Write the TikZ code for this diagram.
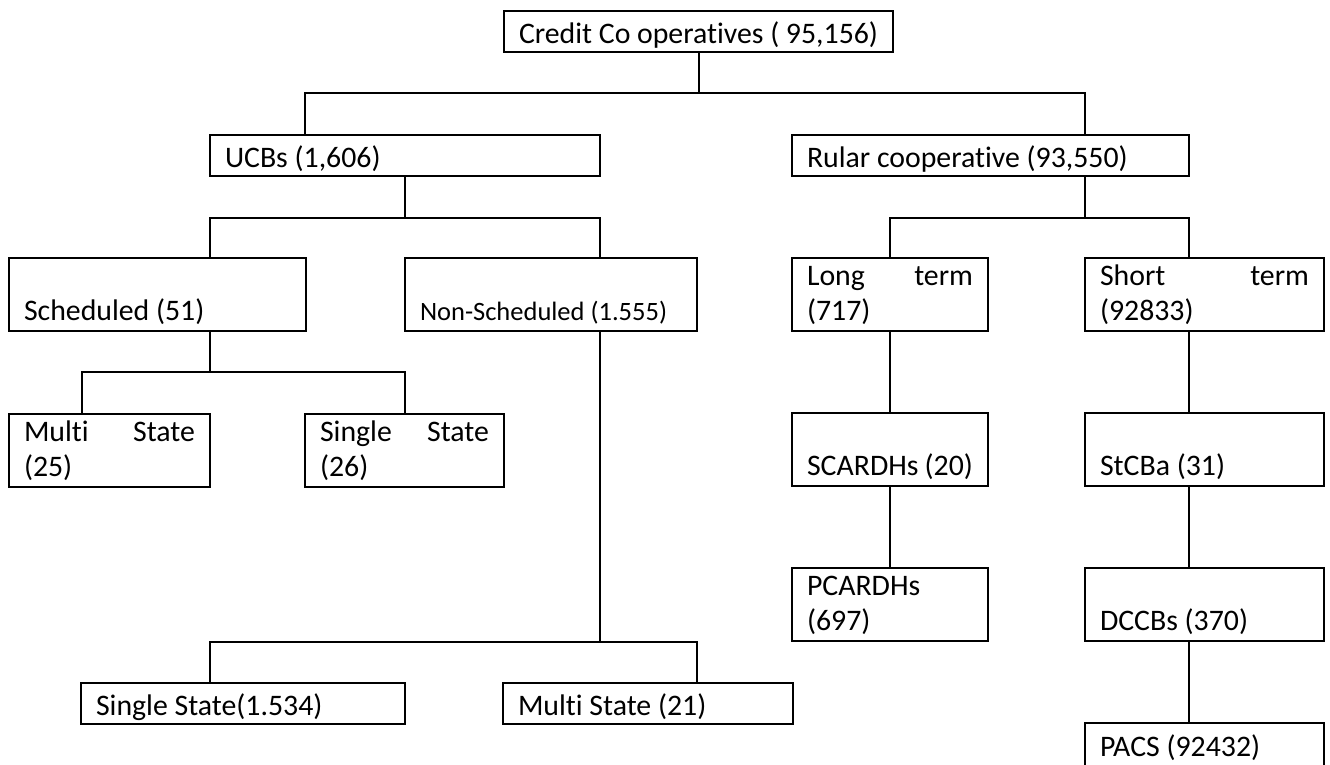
\documentclass[tikz,border=0pt]{standalone}
\usepackage{fontspec}
\setmainfont{Carlito}[Ligatures=CommonOff]
\usetikzlibrary{positioning}

\begin{document}
\begin{tikzpicture}[%
    x=1pt,
    y=-1pt,
    line width=2pt,
    node distance=82pt,
    box/.style={%
      draw,
      anchor=north west,
      outer sep=0pt,
      inner xsep=15pt,
      inner ysep=0pt,
      align=justify,
      font=\fontsize{29.8}{35}\selectfont
    },
    flatbox/.style={%
      box,
      minimum height=41pt,
      text height=27pt,
      text depth=4pt
    },
    tallbox/.style={%
      box,
      minimum height=73pt,
      text height=26pt,
      text depth=44pt
    }
  ]
    \useasboundingbox (0,0) rectangle (1330,764);

    \node[flatbox, text width=359pt] (root) at (504,11) {Credit Co operatives ( 95,156)};
    \node[flatbox, text width=360pt] (ucb) at (210,135) {UCBs (1,606)};
    \node[flatbox, text width=367pt] (rural) at (792,135) {Rular cooperative (93,550)};
    \node[tallbox, text width=267pt] (sched) at (9,258) {\mbox{}\\Scheduled (51)};
    \node[tallbox, text width=262pt, font=\fontsize{26.5}{35}\selectfont] (nonsched) at (405,258) {\mbox{}\\Non-Scheduled (1.555)};
    \node[tallbox, text width=166pt] (longterm) at (792,258) {Long \hfill term\\(717)};
    \node[tallbox, text width=209pt] (shortterm) at (1085,258) {Short \hfill term\\(92833)};
    \node[tallbox, text width=171pt] (multi) at (9,414) {Multi \hfill State\\(25)};
    \node[tallbox, text width=169pt] (single) at (305,414) {Single \hfill State\\(26)};
    \node[tallbox, text width=166pt, below=of longterm] (scardh) {\mbox{}\\SCARDHs (20)};
    \node[tallbox, text width=166pt, below=of scardh] (pcardh) {PCARDHs\\(697)};
    \node[tallbox, text width=209pt, below=of shortterm] (stcb) {\mbox{}\\StCBa (31)};
    \node[tallbox, text width=209pt, below=of stcb] (dccb) {\mbox{}\\DCCBs (370)};
    \node[flatbox, text width=209pt, minimum height=43pt, below=of dccb] (pacs) {PACS (92432)};
    \node[flatbox, text width=294pt] (singlens) at (81,683) {Single State(1.534)};
    \node[flatbox, text width=260pt] (multins) at (503,683) {Multi State (21)};

    % top level
    \draw (root.south) -- ++(0,41) coordinate (j0);
    \draw ([xshift=95pt]ucb.north west) |- (j0) -| ([xshift=293pt]rural.north west);
    % urban side
    \draw (ucb.south) -- ++(0,42) coordinate (j1);
    \draw (sched.north -| ucb.west) |- (j1) -| (nonsched.north -| ucb.east);
    \draw (sched.south -| ucb.west) -- ++(0,41) coordinate (j3);
    \draw ([xshift=73pt]multi.north west) |- (j3) -| (single.north);
    \draw (nonsched.south -| ucb.east) -- ++(0,311) coordinate (j4);
    \draw (singlens.north -| ucb.west) |- (j4) -| (multins.north -| nonsched.east);
    % rural side
    \draw ([xshift=293pt]rural.south west) -- ++(0,42) coordinate (j2);
    \draw (longterm.north) |- (j2) -| (shortterm.north -| rural.east);
    \draw (longterm) -- (scardh) -- (pcardh);
    \draw (shortterm.south -| rural.east) -- (stcb.north -| rural.east);
    \draw (stcb.south -| rural.east) -- (dccb.north -| rural.east);
    \draw (dccb.south -| rural.east) -- (pacs.north -| rural.east);
\end{tikzpicture}
\end{document}
